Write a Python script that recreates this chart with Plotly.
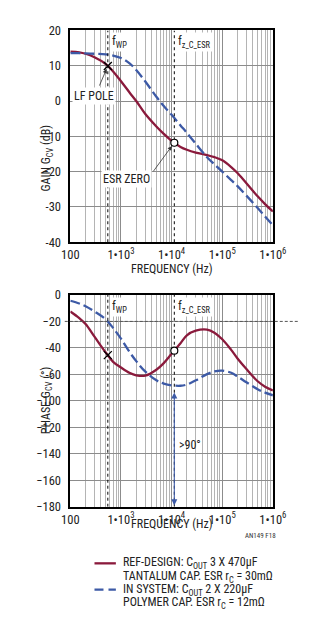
import numpy as np
import plotly.graph_objects as go

# ---- data -------------------------------------------------------------
freq_hz = [100, 150, 200, 300, 500, 700, 1e3, 1.5e3, 2e3, 3e3, 5e3, 7e3, 1e4,
           1.5e4, 2e4, 3e4, 5e4, 7e4, 1e5, 1.5e5, 2e5, 3e5, 5e5, 7e5, 1e6]

gain_ref_db = [14.0, 13.8, 13.4, 12.4, 10.5, 8.4, 5.6, 2.3, 0.0, -3.6, -7.2,
               -9.3, -11.3, -13.0, -13.8, -14.6, -15.3, -15.9, -16.8, -18.7,
               -20.4, -23.3, -27.0, -29.2, -31.3]
gain_sys_db = [13.6, 13.55, 13.5, 13.4, 13.2, 12.9, 12.2, 10.6, 8.8, 5.6, 1.2,
               -1.4, -3.9, -6.9, -9.0, -12.1, -15.9, -17.9, -20.0, -22.4,
               -24.1, -26.8, -30.3, -32.7, -35.2]

phase_ref_deg = [-12.5, -17.5, -22.0, -31.5, -43.5, -50.5, -54.8, -59.0, -60.7,
                 -61.0, -56.5, -51.5, -44.5, -36.5, -30.5, -27.0, -26.2, -28.5,
                 -33.5, -41.5, -48.0, -56.0, -65.2, -69.3, -72.2]
phase_sys_deg = [-4.4, -6.5, -8.5, -12.5, -18.5, -25.0, -33.0, -43.5, -50.0,
                 -57.8, -64.5, -67.0, -68.3, -68.6, -67.7, -64.5, -59.8, -57.8,
                 -57.2, -58.8, -61.5, -66.0, -71.2, -73.8, -75.8]

f_wp = 550.0        # LF pole frequency
f_z_esr = 11300.0   # output-cap ESR zero frequency
phase_ref_line = -20.0

x_tickvals = [100, 1e3, 1e4, 1e5, 1e6]
x_ticktext = ["100", "1•10<sup>3</sup>", "1•10<sup>4</sup>",
              "1•10<sup>5</sup>", "1•10<sup>6</sup>"]
gain_tickvals = [-40, -30, -20, -10, 0, 10, 20]
gain_ticktext = ["-40", "-30", "−20", "−10", "0", "10", "20"]
phase_tickvals = [0, -20, -40, -60, -80, -100, -120, -140, -160]
phase_ticktext = ["0", "−20", "-40", "-60", "−100", "−120", "−140", "−160", "−180"]

legend_lines = [
    "REF-DESIGN: C<sub>OUT</sub> 3 X 470µF",
    "TANTALUM CAP. ESR r<sub>C</sub> = 30mΩ",
    "IN SYSTEM: C<sub>OUT</sub> 2 X 220µF",
    "POLYMER CAP. ESR r<sub>C</sub> = 12mΩ",
]

# ---- style ------------------------------------------------------------
W, H = 325, 625
RED = "#8a1a3c"
BLUE = "#3d5aa6"
FONT = "Roboto Condensed, Liberation Sans, sans-serif"
TXT = dict(size=12, color="#222", family=FONT)


def px(x):
    return x / W


def py(y):
    return 1 - y / H


lf = np.log10(freq_hz)


def at(f, vals):
    return float(np.interp(np.log10(f), lf, vals))


fig = go.Figure()

# gain curves
fig.add_trace(go.Scatter(x=freq_hz, y=gain_ref_db, mode="lines",
                         line=dict(color=RED, width=2.3, shape="spline"),
                         xaxis="x", yaxis="y"))
fig.add_trace(go.Scatter(x=freq_hz, y=gain_sys_db, mode="lines",
                         line=dict(color=BLUE, width=2.3, dash="10px,4px", shape="spline"),
                         xaxis="x", yaxis="y"))
# phase curves
fig.add_trace(go.Scatter(x=freq_hz, y=phase_ref_deg, mode="lines",
                         line=dict(color=RED, width=2.3, shape="spline"),
                         xaxis="x2", yaxis="y2"))
fig.add_trace(go.Scatter(x=freq_hz, y=phase_sys_deg, mode="lines",
                         line=dict(color=BLUE, width=2.3, dash="10px,4px", shape="spline"),
                         xaxis="x2", yaxis="y2"))

# frequency markers (dotted verticals)
for xa, ya, yr in (("x", "y", [-40, 20]), ("x2", "y2", [-160, 0])):
    for f in (f_wp, f_z_esr):
        fig.add_trace(go.Scatter(x=[f, f], y=yr, mode="lines",
                                 line=dict(color="black", width=1, dash="dot"),
                                 xaxis=xa, yaxis=ya))

# LF pole (x) and ESR zero (o) points on the reference curves
for xa, ya, vals in (("x", "y", gain_ref_db), ("x2", "y2", phase_ref_deg)):
    fig.add_trace(go.Scatter(x=[f_wp], y=[at(f_wp, vals)], mode="markers",
                             marker=dict(symbol="x-thin", size=8,
                                         line=dict(color="black", width=1.3)),
                             xaxis=xa, yaxis=ya))
    fig.add_trace(go.Scatter(x=[f_z_esr], y=[at(f_z_esr, vals)], mode="markers",
                             marker=dict(symbol="circle", size=7, color="white",
                                         line=dict(color="black", width=1.2)),
                             xaxis=xa, yaxis=ya))

xaxis_common = dict(type="log", range=[2, 6], tickmode="array",
                    tickvals=x_tickvals, ticktext=x_ticktext,
                    showgrid=True, gridcolor="#8c8c8c", gridwidth=1,
                    minor=dict(tickvals=[m * d for d in (100, 1e3, 1e4, 1e5) for m in range(2, 10)],
                               showgrid=True, gridcolor="#b4b4b4", gridwidth=1, ticks=""),
                    showline=True, linecolor="black", linewidth=1.6, mirror=True,
                    ticks="", tickfont=dict(size=12.5, color="#222", family=FONT),
                    zeroline=False)
yaxis_common = dict(showgrid=True, gridcolor="#8c8c8c", gridwidth=1,
                    showline=True, linecolor="black", linewidth=1.6, mirror=True,
                    ticks="", tickfont=dict(size=12.5, color="#222", family=FONT),
                    zeroline=False, ticklabelstandoff=5)

# height comes from the page container (see write_html below)
fig.update_layout(
    width=W, margin=dict(l=0, r=0, t=0, b=0),
    paper_bgcolor="white", plot_bgcolor="white", showlegend=False,
    font=dict(family=FONT, color="#222"),
    xaxis=dict(domain=[px(66), px(284)], anchor="y", **xaxis_common),
    yaxis=dict(domain=[py(240), py(23)], anchor="x", range=[-40, 20],
               tickmode="array", tickvals=gain_tickvals, ticktext=gain_ticktext,
               **yaxis_common),
    xaxis2=dict(domain=[px(66), px(284)], anchor="y2", **xaxis_common),
    yaxis2=dict(domain=[py(511), py(294)], anchor="x2", range=[-160, 0],
                tickmode="array", tickvals=phase_tickvals, ticktext=phase_ticktext,
                **yaxis_common),
)

# -20° reference line running past the plot frame
fig.add_shape(type="line", xref="paper", yref="y2", x0=px(60), x1=px(311),
              y0=phase_ref_line, y1=phase_ref_line,
              line=dict(color="#555", width=1, dash="3px,2px"))

ann = []

# axis titles
ann.append(dict(xref="paper", yref="paper", x=px(30), y=py(117), text="GAIN G<sub>CV</sub> (dB)",
                textangle=-90, showarrow=False, font=TXT))
ann.append(dict(xref="paper", yref="paper", x=px(30), y=py(402), text="PHASE G<sub>CV</sub> (°)",
                textangle=-90, showarrow=False, font=TXT))
ann.append(dict(xref="paper", yref="paper", x=px(175), y=py(267), text="FREQUENCY (Hz)",
                showarrow=False, font=TXT))
ann.append(dict(xref="paper", yref="paper", x=px(175), y=py(538), text="FREQUENCY (Hz)",
                showarrow=False, font=TXT))
ann.append(dict(xref="paper", yref="paper", x=px(290), y=py(547), text="AN149 F18",
                xanchor="right", showarrow=False, font=dict(size=7, color="#333", family=FONT)))

# frequency labels
for xa, ya, yv in (("x", "y", 20), ("x2", "y2", 0)):
    ann.append(dict(xref=xa, yref=ya, x=np.log10(f_wp), y=yv, text="f<sub>WP</sub>",
                    xanchor="left", yanchor="top", xshift=2, yshift=-2, showarrow=False,
                    bgcolor="white", font=TXT))
    ann.append(dict(xref=xa, yref=ya, x=np.log10(f_z_esr), y=yv, text="f<sub>z_C_ESR</sub>",
                    xanchor="left", yanchor="top", xshift=2, yshift=-2, showarrow=False,
                    bgcolor="white", font=TXT))

# callouts
g_wp = at(f_wp, gain_ref_db)
g_z = at(f_z_esr, gain_ref_db)
ann.append(dict(xref="x", yref="y", x=np.log10(f_wp), y=g_wp, text="LF POLE",
                showarrow=False, xshift=-14, yshift=-30, bgcolor="white", font=TXT))
ann.append(dict(xref="x", yref="y", x=np.log10(f_wp), y=g_wp, text="", showarrow=True,
                ax=-9, ay=21, arrowhead=2, arrowsize=1.1, arrowwidth=0.8,
                arrowcolor="#333", standoff=3))
ann.append(dict(xref="x", yref="y", x=np.log10(f_z_esr), y=g_z, text="ESR ZERO",
                showarrow=False, xshift=-48, yshift=-36, bgcolor="white", font=TXT))
ann.append(dict(xref="x", yref="y", x=np.log10(f_z_esr), y=g_z, text="", showarrow=True,
                ax=-22, ay=30, arrowhead=2, arrowsize=1.1, arrowwidth=0.8,
                arrowcolor="#333", standoff=4))

# phase-drop span arrow
ann.append(dict(xref="x2", yref="y2", x=np.log10(f_z_esr), y=-159,
                axref="x2", ayref="y2", ax=np.log10(f_z_esr), ay=-72.5,
                text="", showarrow=True, arrowhead=2, startarrowhead=2,
                arrowside="end+start", arrowsize=1.1, startarrowsize=1.1,
                arrowwidth=1.1, arrowcolor=BLUE))
ann.append(dict(xref="x2", yref="y2", x=np.log10(f_z_esr), y=-113, text=">90°",
                xanchor="left", xshift=3, showarrow=False, font=TXT))

# legend keys and text
for yl, color, dash in ((569, RED, "solid"), (596, BLUE, "9px,5px")):
    fig.add_shape(type="line", xref="paper", yref="paper", x0=px(92), x1=px(115),
                  y0=py(yl), y1=py(yl), line=dict(color=color, width=2.3, dash=dash))
for line_text, yl in zip(legend_lines, (569, 583, 596, 610)):
    ann.append(dict(xref="paper", yref="paper", x=px(120), y=py(yl), text=line_text,
                    xanchor="left", yanchor="middle", showarrow=False, font=TXT))

fig.update_layout(annotations=ann)

# pin the graph div to the top-left corner of the window
fig.write_html("out.html", default_height=f"{H}px; position:fixed; left:0; top:0")
